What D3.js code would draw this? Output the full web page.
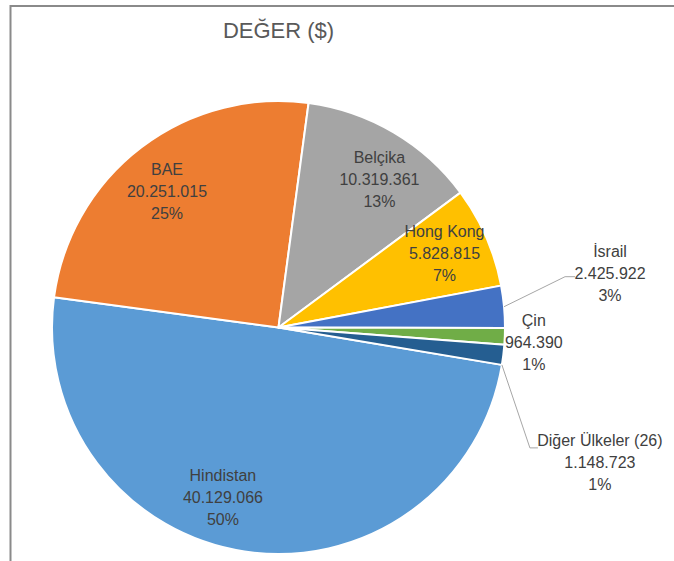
<!DOCTYPE html>
<html>
<head>
<meta charset="utf-8">
<script src="https://cdn.jsdelivr.net/npm/d3@7"></script>
<style>
  body { margin: 0; background: #fff; }
  svg { display: block; font-family: "Liberation Sans", Arial, sans-serif; }
</style>
</head>
<body>
<div id="chart"></div>
<script>
// Data
const countries = ['Hindistan', 'BAE', 'Belçika', 'Hong Kong', 'İsrail', 'Çin', 'Diğer Ülkeler (26)'];
const values = [40129066, 20251015, 10319361, 5828815, 2425922, 964390, 1148723];
const colors = ['#5B9BD5', '#ED7D31', '#A5A5A5', '#FFC000', '#4472C4', '#70AD47', '#255E91'];
const title = 'DEĞER ($)';

let rows = countries.map((c, i) => ({name: c, value: values[i], color: colors[i]}));
let total = d3.sum(values);

const W = 674, H = 561;
const cx = 278.5, cy = 327.5, R = 226.5;

let trFormat = d3.formatLocale({decimal: ',', thousands: '.', grouping: [3], currency: ['', '$']}).format(',d');

let svg = d3.select('#chart')
  .append('svg')
    .attr('width', W)
    .attr('height', H);

// chart frame (only top and left edges visible in the crop)
svg.append('path')
  .attr('d', `M10.5,${H} L10.5,6 L${W},6`)
  .attr('fill', 'none')
  .attr('stroke', '#8a8a8a')
  .attr('stroke-width', 2);

svg.append('text')
  .attr('x', cx)
  .attr('y', 38)
  .attr('text-anchor', 'middle')
  .attr('font-size', 22)
  .attr('fill', '#595959')
  .text(title);

let startDeg = 99.5;
let pie = d3.pie()
  .sort(null)
  .value(d => d.value)
  .startAngle(startDeg * Math.PI / 180)
  .endAngle(startDeg * Math.PI / 180 + 2 * Math.PI);

let arcs = pie(rows);
let arc = d3.arc().innerRadius(0).outerRadius(R);

let g = svg.append('g').attr('transform', `translate(${cx},${cy})`);

g.selectAll('path.slice')
  .data(arcs)
  .enter()
  .append('path')
    .attr('class', 'slice')
    .attr('d', arc)
    .attr('fill', d => d.data.color)
    .attr('stroke', '#fff')
    .attr('stroke-width', 2)
    .attr('stroke-linejoin', 'round');

// point at radius r along angle a (d3 convention: 0 = 12 o'clock, clockwise)
let polar = (a, r) => [Math.sin(a) * r, -Math.cos(a) * r];

// label layout: inside labels sit on 0.79R, nudged like Excel's best fit
let insideNudge = {
  'Hindistan': {deg: 9.5, dx: 0, dy: 0},
  'BAE':       {deg: 0, dx: -3, dy: 7},
  'Belçika':   {deg: 0, dx: 10, dy: 7},
  'Hong Kong': {deg: 0, dx: 2, dy: -2}
};
// outside labels: offsets from a point on the slice's outer edge
// (at = where along the slice the leader starts, 0.5 = middle)
let outside = {
  'İsrail':             {at: 0.5, elbow: [61, -30], end: [71, -30], text: [106, -50]},
  'Çin':                {at: 0.5, elbow: null, end: null, text: [29, -10]},
  'Diğer Ülkeler (26)': {at: 1.0, elbow: [28, 83], end: [36, 83], text: [98, 81]}
};

let lineH = 22;

arcs.forEach(d => {
  let mid = (d.startAngle + d.endAngle) / 2;
  let name = d.data.name;
  let lines = [name, trFormat(d.data.value), Math.round(d.data.value / total * 100) + '%'];
  let lx, ly;

  if (outside[name]) {
    let o = outside[name];
    let p = polar(d.startAngle + (d.endAngle - d.startAngle) * o.at, R);
    if (o.elbow) {
      let pts = [p, [p[0] + o.elbow[0], p[1] + o.elbow[1]], [p[0] + o.end[0], p[1] + o.end[1]]];
      g.append('polyline')
        .attr('points', pts.map(q => q.join(',')).join(' '))
        .attr('fill', 'none')
        .attr('stroke', '#a6a6a6')
        .attr('stroke-width', 1);
    }
    lx = p[0] + o.text[0];
    ly = p[1] + o.text[1];
  } else {
    let n = insideNudge[name] || {deg: 0, dx: 0, dy: 0};
    let p = polar(mid + n.deg * Math.PI / 180, R * 0.79);
    lx = p[0] + n.dx;
    ly = p[1] - lineH + 5 + n.dy;
  }

  let t = g.append('text')
    .attr('font-size', 16)
    .attr('fill', '#404040')
    .attr('text-anchor', 'middle');
  lines.forEach((s, i) => {
    t.append('tspan').attr('x', lx).attr('y', ly + i * lineH).text(s);
  });
});
</script>
</body>
</html>
